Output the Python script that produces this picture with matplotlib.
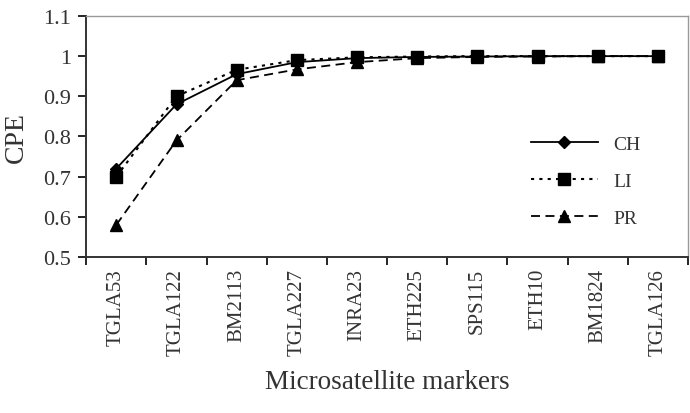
import numpy as np
import matplotlib.pyplot as plt

# datos
markers = ["TGLA53", "TGLA122", "BM2113", "TGLA227", "INRA23",
           "ETH225", "SPS115", "ETH10", "BM1824", "TGLA126"]
ch = [0.72, 0.88, 0.955, 0.985, 0.995, 0.998, 0.999, 1.0, 1.0, 1.0]
li = [0.70, 0.90, 0.966, 0.99, 0.997, 0.999, 1.0, 1.0, 1.0, 1.0]
pr = [0.58, 0.79, 0.94, 0.967, 0.985, 0.995, 0.998, 0.999, 1.0, 1.0]

plt.rcParams["font.family"] = ["Liberation Serif", "DejaVu Serif"]

fig = plt.figure(figsize=(6.9, 4.14), dpi=100)
ax = fig.add_axes([0.125, 0.377, 0.872, 0.582])

x = np.arange(len(markers))
ax.plot(x, ch, color="black", linestyle="-", linewidth=1.3, marker="D", markersize=6, label="CH")
ax.plot(x, li, color="black", linestyle=(0, (1.5, 2.5)), linewidth=1.5, marker="s", markersize=8.5, label="LI")
ax.plot(x, pr, color="black", linestyle=(0, (5, 3)), linewidth=1.3, marker="^", markersize=8, label="PR")

ax.set_xlim(-0.5, len(markers) - 0.5)
ax.set_ylim(0.5, 1.1)
ax.set_yticks(np.arange(0.5, 1.101, 0.1))
ax.set_yticklabels(["0.5", "0.6", "0.7", "0.8", "0.9", "1", "1.1"], fontsize=16, color="#333333")
ax.set_xticks(x)
ax.set_xticklabels(markers, rotation=90, fontsize=15, color="#333333")
ax.set_xticks(np.arange(-0.5, len(markers)), minor=True)
ax.tick_params(axis="x", which="major", length=0, pad=8)
ax.tick_params(axis="x", which="minor", length=6, width=1.2, direction="out")
ax.tick_params(axis="y", length=6, width=1.2, direction="out", pad=5)

ax.set_ylabel("CPE", fontsize=20, color="#333333", labelpad=10)
ax.set_xlabel("Microsatellite markers", fontsize=19.5, color="#333333", labelpad=10)

for s in ["left", "bottom"]:
    ax.spines[s].set_color("#333333")
    ax.spines[s].set_linewidth(1.4)
for s in ["top", "right"]:
    ax.spines[s].set_color("#999999")
    ax.spines[s].set_linewidth(1.0)

ax.legend(loc="center right", bbox_to_anchor=(0.95, 0.315), frameon=False,
          fontsize=14, handlelength=3.4, labelspacing=1.0, labelcolor="#333333")

fig.savefig("out.png", dpi=100)
